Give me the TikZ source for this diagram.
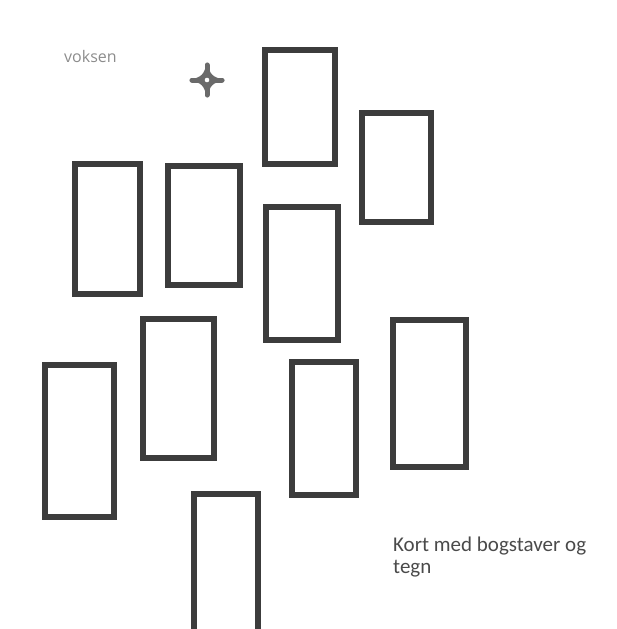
\documentclass[tikz,border=0pt]{standalone}
\usepackage{fontspec}
\setmainfont{Carlito}
\newfontfamily\vokfont{Open Sans}
\definecolor{cardline}{HTML}{3C3C3C}
\definecolor{softgray}{HTML}{8C8C8C}
\definecolor{textgray}{HTML}{4A4A4A}
\definecolor{stargray}{HTML}{6A6A6A}
\begin{document}
\begin{tikzpicture}[x=1pt,y=-1pt,
  card/.style={draw=cardline, line width=6pt, rectangle, inner sep=0pt, outer sep=0pt, fill=none}]
\useasboundingbox (0,0) rectangle (617,629);
\clip (0,0) rectangle (617,629);
% cards (minimum size = outer size - line width)
\node[card, minimum width=70pt, minimum height=114pt] (c1) at (300,107) {};
\node[card, minimum width=69pt, minimum height=109pt] (c2) at (396.5,167.5) {};
\node[card, minimum width=65pt, minimum height=130pt] (c3) at (107.5,229) {};
\node[card, minimum width=72pt, minimum height=119pt] (c4) at (204,225.5) {};
\node[card, minimum width=72pt, minimum height=133pt] (c5) at (302,273.5) {};
\node[card, minimum width=71pt, minimum height=139pt] (c6) at (178.5,388.5) {};
\node[card, minimum width=69pt, minimum height=152pt] (c7) at (79.5,441) {};
\node[card, minimum width=64pt, minimum height=133pt] (c8) at (324,428.5) {};
\node[card, minimum width=73pt, minimum height=147pt] (c9) at (429.5,393.5) {};
\node[card, minimum width=64pt, minimum height=143pt] (c10) at (226,565.5) {};
% texts
\node[anchor=base west, inner sep=0pt, text=softgray, font=\vokfont\fontsize{16}{18}\selectfont] (vok) at (64,62) {voksen};
\node[anchor=base west, inner sep=0pt, text=textgray, align=left, font=\fontsize{21}{21.6}\selectfont] (kort) at (393,573.5) {Kort med bogstaver og\\tegn};
% star marker
\coordinate (star) at (207,80);
\fill[stargray] ([shift={(0,-18)}]star) .. controls ([shift={(3,-5)}]star) and ([shift={(5,-3)}]star) .. ([shift={(18,0)}]star)
  .. controls ([shift={(5,3)}]star) and ([shift={(3,5)}]star) .. ([shift={(0,18)}]star)
  .. controls ([shift={(-3,5)}]star) and ([shift={(-5,3)}]star) .. ([shift={(-18,0)}]star)
  .. controls ([shift={(-5,-3)}]star) and ([shift={(-3,-5)}]star) .. cycle;
\draw[stargray, line width=5pt, line cap=round] ([shift={(0,-15)}]star) -- ([shift={(0,15)}]star);
\draw[stargray, line width=5pt, line cap=round] ([shift={(-15,0)}]star) -- ([shift={(15,0)}]star);
\fill[stargray] (star) circle (6pt);
\fill[white] (star) circle (2.3pt);
\end{tikzpicture}
\end{document}
